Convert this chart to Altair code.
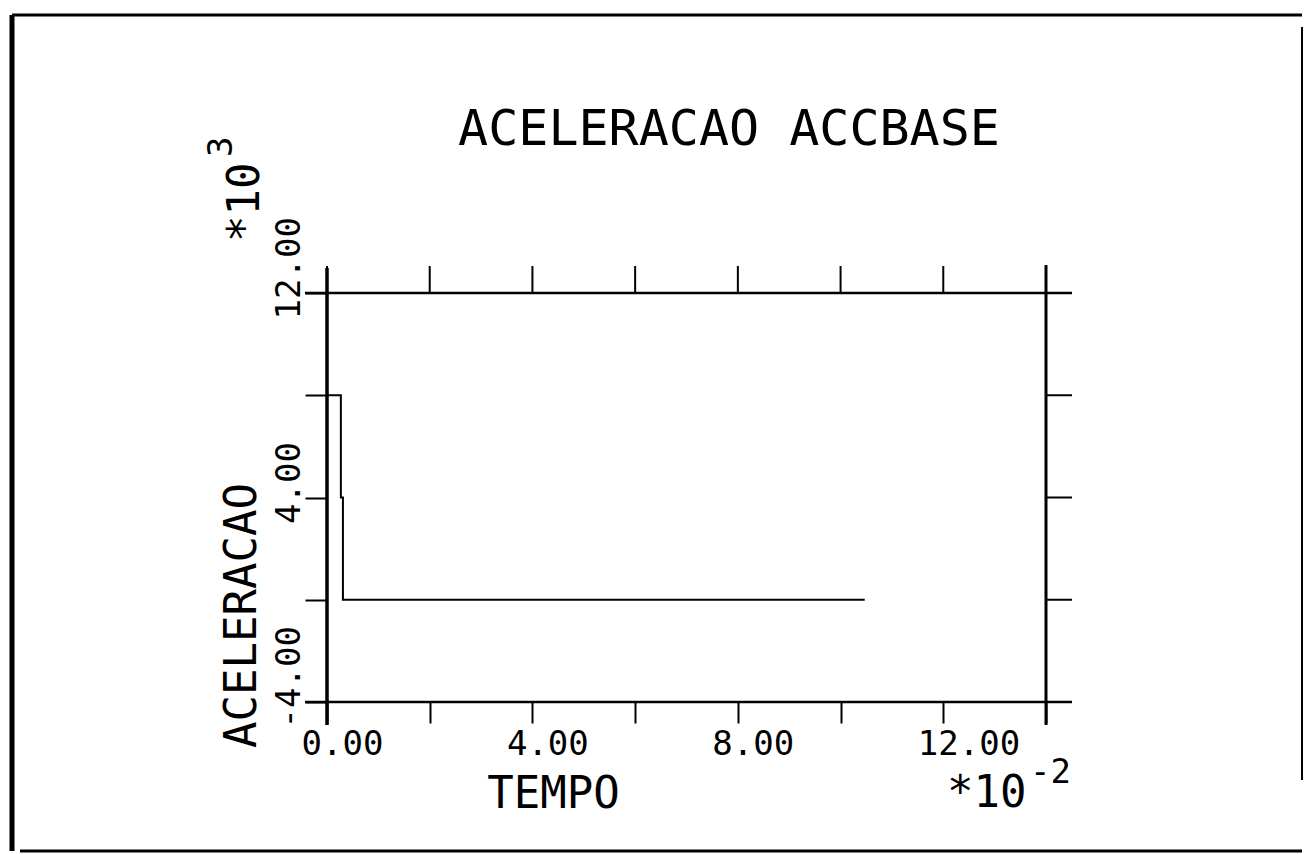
import altair as alt
import pandas as pd

# ---- data ----
time_x100 = [0.0, 0.27, 0.31, 10.47]        # TEMPO  (*10^-2)
accel_x1000 = [8.0, 4.0, 0.0, 0.0]          # ACELERACAO (*10^3)
x_ticks = [0, 2, 4, 6, 8, 10, 12, 14]
y_ticks = [-4, 0, 4, 8, 12]
x_labelled = [0, 4, 8, 12]
y_labelled = [-4, 4, 12]
title_text = "ACELERACAO ACCBASE"
x_title = "TEMPO"
y_title = "ACELERACAO"

W, H = 719, 409
FONT = "DejaVu Sans Mono"
BLACK = "#000000"

xscale = alt.Scale(domain=[0, 14], nice=False, zero=False)
yscale = alt.Scale(domain=[-4, 12], nice=False, zero=False)

data = pd.DataFrame({"t": time_x100, "a": accel_x1000})
one = pd.DataFrame({"k": [0]})


def label_expr(vals):
    return (f"indexof({vals}, datum.value) >= 0 ? "
            "replace(format(datum.value, '.2f'), '\u2212', '-') : ''")


x_axis = alt.Axis(
    values=x_ticks,
    labelExpr=label_expr(x_labelled),
    title=x_title, titleFont=FONT, titleFontSize=44, titleFontWeight="normal",
    titleColor=BLACK, titleX=226, titleY=105, titleAlign="center",
    titleBaseline="alphabetic", titleAngle=0,
    labelFont=FONT, labelFontSize=34, labelColor=BLACK, labelAlign="left",
    labelBaseline="top", labelOffset=-26, labelPadding=4, labelFlush=False,
    labelOverlap=False, labelBound=False,
    ticks=True, tickSize=21, tickWidth=2, tickColor=BLACK,
    domain=False, grid=False,
)
y_axis = alt.Axis(
    values=y_ticks,
    labelExpr=label_expr(y_labelled),
    title=y_title, titleFont=FONT, titleFontSize=44, titleFontWeight="normal",
    titleColor=BLACK, titleX=-72, titleY=322, titleAlign="center",
    titleBaseline="alphabetic", titleAngle=270,
    labelFont=FONT, labelFontSize=34, labelColor=BLACK, labelAngle=270,
    labelAlign="left", labelBaseline="alphabetic", labelOffset=26,
    labelPadding=6, labelFlush=False, labelOverlap=False, labelBound=False,
    ticks=True, tickSize=22, tickWidth=2, tickColor=BLACK,
    domain=False, grid=False,
)

line = alt.Chart(data).mark_line(
    interpolate="step-after", color=BLACK, strokeWidth=2
).encode(
    x=alt.X("t:Q", scale=xscale, axis=x_axis, title=x_title),
    y=alt.Y("a:Q", scale=yscale, axis=y_axis, title=y_title),
)

# top ticks and right ticks (drawn through the shared scales)
top_ticks = alt.Chart(pd.DataFrame({"t": x_ticks})).mark_rule(
    color=BLACK, strokeWidth=2
).encode(
    x=alt.X("t:Q", scale=xscale, axis=x_axis, title=x_title),
    y=alt.value(0), y2=alt.value(-27),
)
right_ticks = alt.Chart(pd.DataFrame({"a": y_ticks})).mark_rule(
    color=BLACK, strokeWidth=2
).encode(
    y=alt.Y("a:Q", scale=yscale, axis=y_axis, title=y_title),
    x=alt.value(W), x2=alt.value(W + 26),
)


def rule(x, x2, y, y2, sw):
    return alt.Chart(one).mark_rule(color=BLACK, strokeWidth=sw).encode(
        x=alt.value(x), x2=alt.value(x2), y=alt.value(y), y2=alt.value(y2)
    )


frame = [
    rule(0, 0, -25, 432, 3.5),          # left axis line
    rule(W, W, -28, 432, 3),            # right axis line
    rule(-22, W + 26, 0, 0, 2.5),       # top axis line
    rule(-22, W + 26, H, H, 2.5),       # bottom axis line
    # outer scan border
    rule(-315, -315, -278, 558, 5),
    rule(-315, 975, -278, -278, 3),
    rule(975, 975, -266, 487, 2),
    rule(-307, 975, 558, 558, 3),
]


def txt(text, x, y, size, angle=0, align="left"):
    return alt.Chart(one).mark_text(
        text=text, font=FONT, fontSize=size, angle=angle, align=align,
        baseline="alphabetic", color=BLACK
    ).encode(x=alt.value(x), y=alt.value(y))


texts = [
    txt(title_text, 402, -148, 50, align="center"),
    txt("*10", -68, -51, 44, angle=270),
    txt("3", -95, -136, 34, angle=270),
    txt("*10", 620, 514, 44),
    txt("-2", 703, 490, 34),
]

chart = alt.layer(line, top_ticks, right_ticks, *frame, *texts).properties(
    width=W, height=H,
    autosize=alt.AutoSizeParams(type="none"),
    padding={"left": 327, "top": 293, "right": 259, "bottom": 152},
    background="white",
).configure_view(stroke=None)

chart.save("out.html", embed_options={"renderer": "svg", "actions": False})
